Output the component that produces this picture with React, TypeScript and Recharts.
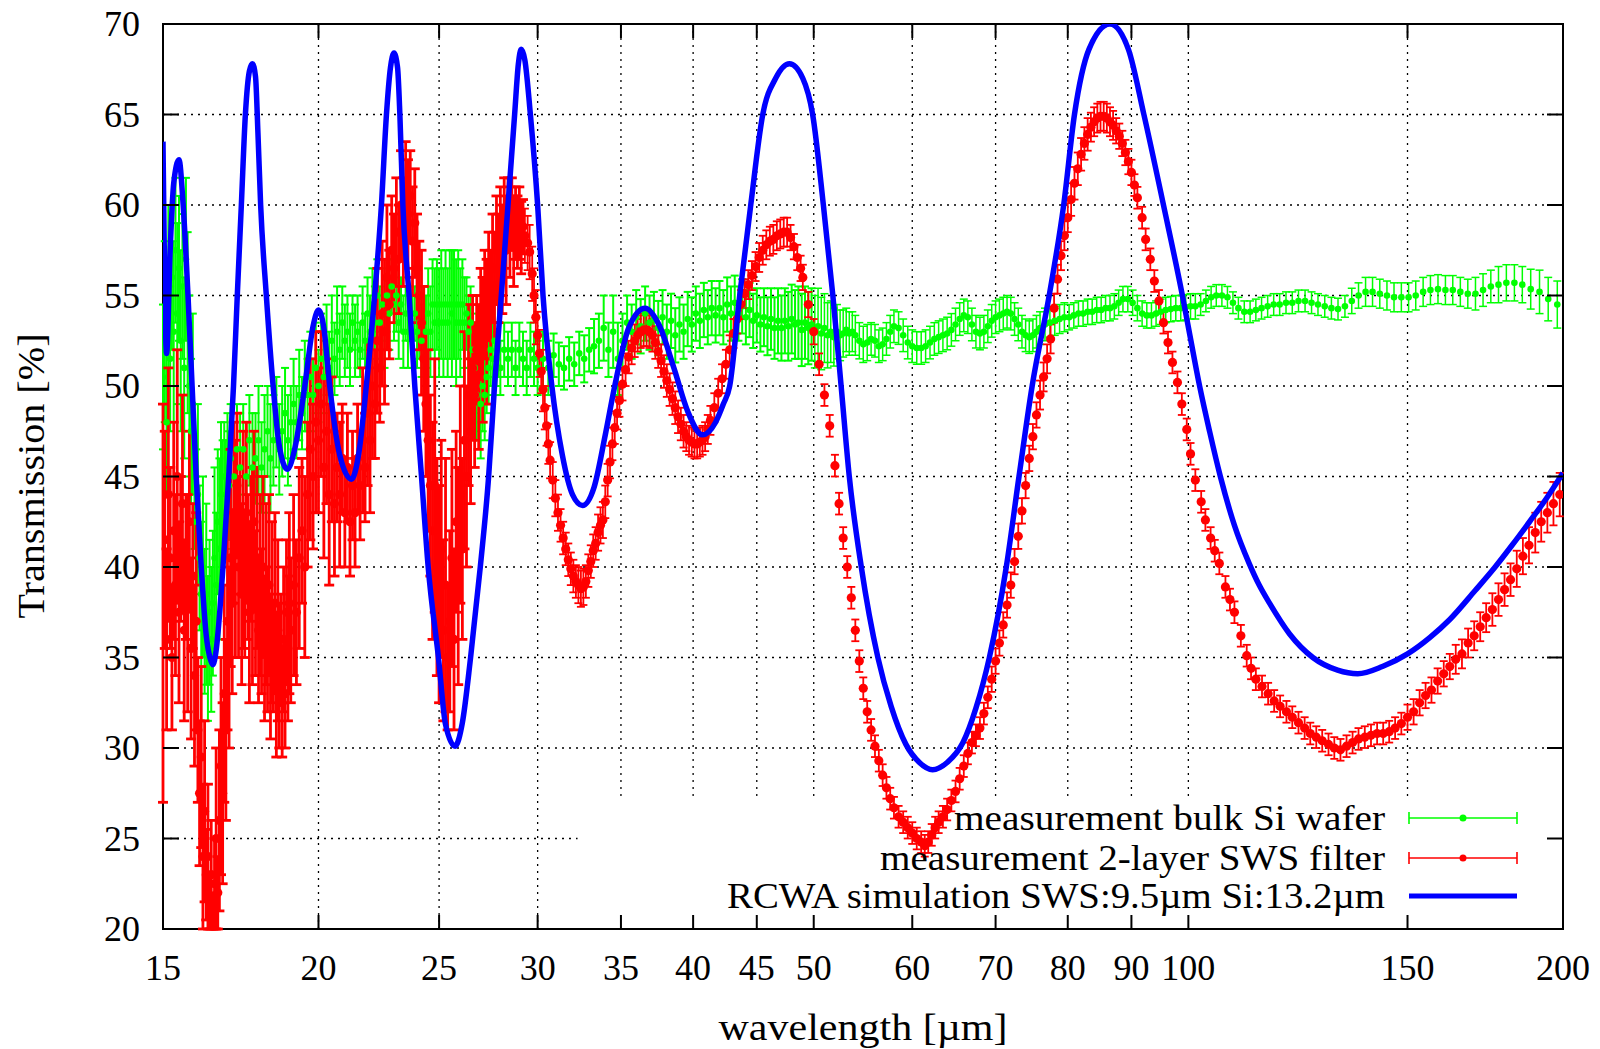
import React from 'react';
import {
  ComposedChart,
  Scatter,
  Line,
  XAxis,
  YAxis,
  CartesianGrid,
  ErrorBar,
  ReferenceArea,
  Legend,
} from 'recharts';

const FONT = '"Liberation Serif", "Times New Roman", serif';
const W = 1600;
const H = 1049;
const PLOT_TOP = 24;
const PLOT_BOTTOM = 929;
const PLOT_LEFT = 163;
const PLOT_RIGHT = 1563;

const xTicks = [15, 20, 25, 30, 35, 40, 45, 50, 60, 70, 80, 90, 100, 150, 200];
const yTicks = [20, 25, 30, 35, 40, 45, 50, 55, 60, 65, 70];

// [wavelength um, transmission %, error]
const greenLow: number[][] = [
  [15.0, 50.5, 4], [15.05, 53.0, 5], [15.1, 48.0, 4], [15.15, 55.0, 5], [15.2, 51.5, 4],
  [15.25, 56.0, 4], [15.3, 53.0, 5], [15.35, 57.5, 4], [15.4, 54.0, 5], [15.45, 56.5, 4],
  [15.5, 52.5, 5], [15.55, 55.5, 4], [15.6, 51.0, 5], [15.65, 57.0, 4.5], [15.7, 53.5, 5],
  [15.75, 50.0, 5], [15.8, 47.5, 4], [15.85, 49.0, 5], [15.9, 45.0, 4], [15.95, 42.5, 4],
  [16.0, 44.0, 5], [16.05, 40.5, 4], [16.1, 38.5, 4], [16.15, 40.0, 5], [16.2, 37.0, 4],
  [16.25, 38.5, 5], [16.3, 35.5, 4], [16.35, 37.5, 4], [16.4, 36.0, 4], [16.45, 38.0, 4],
  [16.5, 40.5, 5], [16.55, 39.0, 4], [16.6, 42.5, 4], [16.65, 41.0, 5], [16.7, 44.0, 4],
  [16.75, 43.0, 4], [16.8, 45.0, 3], [16.85, 44.0, 3], [16.9, 45.5, 3], [16.95, 44.5, 3],
  [17.0, 46.0, 3], [17.1, 45.0, 3], [17.2, 46.5, 2.5], [17.3, 45.5, 3], [17.4, 46.5, 2.5],
  [17.5, 45.0, 3], [17.6, 47.0, 2.5], [17.7, 45.5, 3], [17.8, 46.0, 2.5], [17.9, 47.0, 3],
  [18.0, 45.5, 2.5], [18.1, 46.5, 3], [18.2, 47.5, 2.5], [18.3, 46.0, 3], [18.4, 47.0, 2.5],
  [18.5, 48.0, 2.5], [18.6, 46.5, 2.5], [18.7, 47.5, 2.5], [18.8, 48.5, 2.5], [18.9, 47.0, 2.5],
  [19.0, 48.0, 2], [19.1, 49.0, 2.5], [19.2, 48.0, 2], [19.3, 49.5, 2.5], [19.4, 48.5, 2],
  [19.5, 50.0, 2.5], [19.6, 49.5, 2], [19.7, 50.5, 2.5], [19.8, 49.5, 2], [19.9, 51.0, 2.5],
  [20.0, 50.0, 2], [20.1, 51.5, 2.5], [20.2, 50.5, 2], [20.3, 52.0, 2.5], [20.4, 51.0, 2],
  [20.5, 52.5, 2.5], [20.6, 51.5, 2], [20.7, 53.0, 2.5], [20.8, 52.0, 2], [20.9, 53.5, 2],
  [21.0, 52.5, 2], [21.1, 53.0, 2], [21.2, 52.0, 2], [21.3, 53.5, 1.5], [21.4, 52.5, 2],
  [21.5, 53.0, 2], [21.6, 52.0, 1.5], [21.7, 53.5, 2], [21.8, 52.5, 1.5], [21.9, 54.0, 2],
  [22.0, 53.0, 2], [22.1, 54.5, 2], [22.2, 53.5, 2], [22.3, 55.0, 2], [22.4, 53.5, 2],
  [22.5, 54.5, 2], [22.6, 53.0, 2], [22.7, 55.0, 2], [22.8, 54.0, 2], [22.9, 55.5, 1.5],
  [23.0, 54.5, 2], [23.1, 55.0, 2], [23.2, 53.5, 2], [23.3, 54.5, 1.5], [23.4, 53.0, 2],
  [23.5, 54.0, 1.5], [23.6, 53.0, 2], [23.7, 54.0, 1.5], [23.8, 53.0, 2], [23.9, 54.0, 1.5],
  [24.0, 53.0, 2], [24.1, 53.5, 2], [24.2, 52.5, 2], [24.3, 53.5, 2], [24.4, 53.0, 2],
  [24.5, 54.0, 2.5], [24.6, 53.0, 2.5], [24.7, 54.5, 2.5], [24.8, 53.5, 3], [24.9, 54.5, 2.5],
  [25.0, 53.5, 3], [25.1, 54.5, 3], [25.2, 53.5, 3], [25.3, 54.5, 3], [25.4, 53.5, 3],
  [25.5, 54.5, 3], [25.6, 54.0, 3.5], [25.7, 54.5, 3], [25.8, 53.5, 3.5], [25.9, 54.5, 3],
  [26.0, 53.5, 3], [26.1, 54.5, 2.5], [26.2, 53.5, 2.5], [26.3, 54.0, 2], [26.4, 53.0, 2],
  [26.5, 53.5, 2], [26.6, 52.0, 2], [26.7, 51.0, 2.5], [26.8, 49.5, 2.5], [26.9, 50.5, 3],
  [27.0, 49.0, 3], [27.1, 50.0, 2.5], [27.2, 49.5, 2.5], [27.3, 50.5, 2], [27.4, 51.0, 2],
  [27.5, 52.0, 2], [27.6, 51.5, 2], [27.7, 52.5, 2], [27.8, 51.5, 1.5], [27.9, 52.0, 1.5],
  [28.0, 51.0, 1.5], [28.2, 52.0, 1.5], [28.4, 51.5, 1.5], [28.6, 52.0, 1.5], [28.8, 51.0, 1.5],
  [29.0, 52.0, 1.5], [29.2, 51.5, 1.5], [29.4, 51.0, 1.5], [29.6, 52.0, 1.5], [29.8, 51.5, 1.5],
  [30.0, 51.0, 1.5], [30.3, 51.5, 1.5], [30.6, 51.0, 1.5], [30.9, 51.7, 1.2], [31.2, 51.2, 1.2],
  [31.5, 51.0, 1.2], [31.8, 51.5, 1.2], [32.1, 51.2, 1.2], [32.4, 51.8, 1.2], [32.7, 51.5, 1.3],
  [33.0, 52.0, 1.2], [33.3, 52.2, 1.5], [33.6, 52.5, 1.5], [33.9, 53.2, 1.8], [34.2, 52.0, 1.5],
  [34.5, 53.0, 2], [34.8, 51.5, 2], [35.1, 52.5, 1.5], [35.4, 53.5, 1.5], [35.7, 53.0, 1.5],
  [36.0, 53.8, 1.5], [36.3, 53.3, 1.5], [36.6, 54.0, 1.5], [36.9, 53.5, 1.5], [37.2, 53.7, 1.5],
  [37.5, 53.2, 1.5], [37.8, 53.8, 1.5], [38.1, 53.0, 1.5], [38.4, 53.6, 1.5], [38.7, 52.8, 1.5],
  [39.0, 53.4, 1.5], [39.3, 53.0, 1.5], [39.6, 53.7, 1.5], [39.9, 53.4, 1.5], [40.2, 54.0, 1.5],
  [40.5, 53.6, 1.5], [40.8, 54.2, 1.5], [41.1, 53.8, 1.5], [41.4, 54.3, 1.5], [41.7, 53.9, 1.5],
  [42.0, 54.3, 1.5], [42.3, 53.8, 1.5], [42.6, 54.5, 1.5], [42.9, 54.0, 1.5], [43.2, 54.6, 1.5],
  [43.5, 54.0, 1.5], [43.8, 54.4, 1.5], [44.1, 53.8, 1.5], [44.4, 54.2, 1.5], [44.7, 53.6, 1.5],
  [45.0, 53.9, 1.5], [45.3, 53.4, 1.5], [45.6, 53.8, 1.6], [45.9, 53.3, 1.6], [46.2, 53.7, 1.7],
  [46.5, 53.2, 1.7], [46.8, 53.6, 1.8], [47.1, 53.2, 1.8], [47.4, 53.6, 1.8], [47.7, 53.3, 1.9],
  [48.0, 53.7, 1.9], [48.3, 53.4, 1.9], [48.6, 53.5, 2.0], [48.9, 53.1, 2.0], [49.2, 53.5, 2.0],
  [49.5, 53.2, 2.0], [49.8, 53.4, 2.0],
];

const greenHigh: number[][] = [
  [50.1, 53.0, 2.0], [50.4, 53.3, 2.1], [50.7, 52.9, 2.0], [51.0, 53.2, 1.9], [51.3, 52.8, 1.8],
  [51.6, 53.0, 1.7], [51.9, 52.7, 1.6], [52.2, 53.0, 1.5], [52.5, 52.8, 1.4], [52.8, 52.9, 1.3],
  [53.1, 53.1, 1.2], [53.4, 52.9, 1.2], [53.7, 53.0, 1.1], [54.0, 52.8, 1.1], [54.4, 52.5, 1.0],
  [54.8, 52.3, 1.0], [55.2, 52.4, 1.0], [55.6, 52.6, 0.9], [56.0, 52.5, 0.9], [56.4, 52.2, 0.9],
  [56.8, 52.3, 0.9], [57.2, 52.6, 0.9], [57.6, 53.0, 0.9], [58.0, 53.3, 0.9], [58.5, 53.2, 0.9],
  [59.0, 52.8, 0.9], [59.5, 52.4, 0.9], [60.0, 52.2, 0.9], [60.5, 52.1, 0.9], [61.0, 52.1, 0.9],
  [61.5, 52.2, 0.9], [62.0, 52.4, 0.9], [62.5, 52.6, 0.9], [63.0, 52.7, 0.9], [63.5, 52.8, 0.9],
  [64.0, 52.9, 0.9], [64.5, 53.1, 0.9], [65.0, 53.4, 0.9], [65.5, 53.7, 0.9], [66.0, 53.9, 0.9],
  [66.5, 53.8, 0.9], [67.0, 53.4, 0.9], [67.5, 53.0, 0.9], [68.0, 52.9, 0.9], [68.5, 53.0, 0.9],
  [69.0, 53.3, 0.9], [69.5, 53.6, 0.9], [70.0, 53.8, 0.9], [70.5, 53.9, 0.9], [71.0, 54.0, 0.9],
  [71.5, 54.1, 0.9], [72.0, 54.0, 0.9], [72.5, 53.7, 0.9], [73.0, 53.4, 0.9], [73.5, 53.0, 0.9],
  [74.0, 52.8, 0.9], [74.5, 52.7, 0.9], [75.0, 52.8, 0.9], [75.5, 53.0, 0.9], [76.0, 53.2, 0.9],
  [76.7, 53.4, 0.9], [77.4, 53.5, 0.8], [78.1, 53.6, 0.8], [78.8, 53.7, 0.8], [79.5, 53.8, 0.8],
  [80.2, 53.8, 0.7], [80.9, 53.9, 0.7], [81.6, 54.0, 0.7], [82.3, 54.0, 0.7], [83.0, 54.1, 0.7],
  [83.7, 54.1, 0.7], [84.4, 54.2, 0.7], [85.1, 54.2, 0.7], [85.8, 54.3, 0.7], [86.5, 54.3, 0.7],
  [87.2, 54.4, 0.7], [87.9, 54.6, 0.7], [88.6, 54.8, 0.7], [89.4, 54.8, 0.7], [90.2, 54.6, 0.7],
  [91.0, 54.3, 0.7], [91.8, 54.0, 0.7], [92.6, 53.9, 0.7], [93.4, 53.9, 0.7], [94.2, 54.0, 0.7],
  [95.0, 54.1, 0.7], [95.9, 54.2, 0.7], [96.8, 54.25, 0.7], [97.7, 54.3, 0.7], [98.6, 54.3, 0.7],
  [99.5, 54.35, 0.7], [100.4, 54.4, 0.7], [101.3, 54.4, 0.7], [102.3, 54.5, 0.6], [103.3, 54.7, 0.6],
  [104.3, 54.9, 0.6], [105.3, 55.0, 0.6], [106.4, 55.0, 0.6], [107.5, 54.9, 0.6], [108.6, 54.6, 0.6],
  [109.7, 54.3, 0.6], [110.9, 54.1, 0.6], [112.1, 54.1, 0.6], [113.3, 54.2, 0.6], [114.5, 54.3, 0.6],
  [115.8, 54.4, 0.6], [117.1, 54.5, 0.6], [118.4, 54.5, 0.6], [119.8, 54.6, 0.6], [121.2, 54.6, 0.6],
  [122.6, 54.7, 0.6], [124.1, 54.7, 0.6], [125.6, 54.6, 0.6], [127.1, 54.5, 0.6], [128.7, 54.4, 0.6],
  [130.3, 54.3, 0.6], [131.9, 54.25, 0.6], [133.6, 54.4, 0.6], [135.3, 54.7, 0.7], [137.0, 55.0, 0.7],
  [138.8, 55.2, 0.8], [140.6, 55.2, 0.8], [142.5, 55.1, 0.8], [144.4, 55.0, 0.8], [146.3, 54.9, 0.8],
  [148.3, 54.9, 0.8], [150.3, 54.9, 0.8], [152.3, 55.0, 0.8], [154.4, 55.2, 0.8], [156.5, 55.3, 0.8],
  [158.7, 55.35, 0.8], [160.9, 55.3, 0.8], [163.1, 55.3, 0.8], [165.4, 55.2, 0.8], [167.7, 55.1, 0.8],
  [170.1, 55.1, 0.9], [172.5, 55.3, 0.9], [175.0, 55.5, 0.9], [177.5, 55.6, 1.0], [180.1, 55.7, 1.0],
  [182.8, 55.7, 1.0], [185.5, 55.6, 1.0], [188.4, 55.35, 1.1], [191.5, 55.2, 1.2], [194.6, 54.8, 1.2],
  [197.9, 54.5, 1.3],
];

const redLow: number[][] = [
  [15.0, 38.0, 11], [15.05, 41.5, 6], [15.1, 36.0, 5], [15.15, 44.0, 7], [15.2, 40.5, 5],
  [15.25, 35.0, 4], [15.3, 42.0, 6], [15.35, 39.0, 5], [15.4, 45.0, 7], [15.45, 37.5, 5],
  [15.5, 41.0, 4], [15.55, 43.5, 6], [15.6, 36.5, 5], [15.65, 40.0, 4], [15.7, 38.0, 6],
  [15.75, 42.5, 5], [15.8, 35.5, 5], [15.85, 39.5, 4], [15.9, 34.0, 5], [15.95, 37.0, 6],
  [16.0, 31.0, 4], [16.05, 27.5, 4], [16.1, 29.5, 5], [16.15, 24.0, 4], [16.2, 26.5, 5],
  [16.25, 23.0, 2.5], [16.3, 24.0, 4], [16.35, 21.5, 1.5], [16.4, 23.0, 3], [16.45, 21.0, 1],
  [16.5, 22.5, 2.5], [16.55, 25.0, 5], [16.6, 22.0, 2], [16.65, 26.0, 5], [16.7, 29.0, 6],
  [16.75, 27.5, 5], [16.8, 33.0, 6], [16.85, 31.0, 5], [16.9, 37.0, 6], [16.95, 35.0, 5],
  [17.0, 40.5, 6], [17.05, 38.0, 5], [17.1, 43.0, 5], [17.15, 41.0, 6], [17.2, 44.5, 4],
  [17.25, 40.0, 5], [17.3, 42.5, 4], [17.35, 38.5, 5], [17.4, 41.5, 6], [17.45, 39.0, 4],
  [17.5, 43.0, 5], [17.55, 40.0, 4], [17.6, 37.5, 5], [17.65, 41.0, 4], [17.7, 39.5, 6],
  [17.75, 42.5, 5], [17.8, 38.0, 4], [17.85, 40.5, 5], [17.9, 36.5, 4], [17.95, 39.0, 5],
  [18.0, 37.0, 4], [18.05, 40.0, 5], [18.1, 35.5, 4], [18.15, 38.5, 5], [18.2, 36.0, 4],
  [18.25, 39.0, 5], [18.3, 34.5, 4], [18.35, 37.5, 5], [18.4, 35.0, 3], [18.45, 38.0, 5],
  [18.5, 33.5, 4], [18.55, 36.5, 5], [18.6, 34.0, 4], [18.65, 35.5, 3], [18.7, 32.5, 3],
  [18.75, 36.0, 4], [18.8, 33.0, 3], [18.85, 37.5, 4], [18.9, 35.5, 4], [18.95, 38.0, 5],
  [19.0, 36.5, 4], [19.1, 39.0, 5], [19.2, 37.5, 4], [19.3, 40.5, 5], [19.4, 42.0, 4],
  [19.5, 40.0, 5], [19.6, 44.0, 4], [19.7, 46.5, 5], [19.8, 45.0, 4], [19.9, 48.0, 5],
  [20.0, 47.0, 4], [20.1, 49.0, 4], [20.2, 45.5, 5], [20.3, 47.5, 4], [20.4, 44.0, 5],
  [20.5, 46.5, 4], [20.6, 43.5, 4], [20.7, 45.5, 3], [20.8, 44.0, 4], [20.9, 46.0, 3],
  [21.0, 43.0, 3], [21.1, 45.5, 3], [21.2, 42.5, 3], [21.3, 44.5, 3], [21.4, 43.0, 3],
  [21.5, 46.0, 3], [21.6, 44.5, 3], [21.7, 47.0, 4], [21.8, 45.5, 3], [21.9, 48.5, 4],
  [22.0, 47.0, 4], [22.1, 50.0, 4], [22.2, 49.0, 3], [22.3, 52.5, 4], [22.4, 51.0, 3],
  [22.5, 54.0, 4], [22.6, 53.0, 4], [22.7, 56.0, 4], [22.8, 54.5, 3], [22.9, 57.5, 3],
  [23.0, 56.5, 3], [23.1, 58.5, 3], [23.2, 57.0, 3], [23.3, 60.0, 3], [23.4, 58.5, 3],
  [23.5, 61.0, 2.5], [23.6, 59.5, 3], [23.7, 60.5, 2.5], [23.8, 58.0, 3], [23.9, 59.0, 3],
  [24.0, 56.5, 3], [24.1, 55.0, 3], [24.2, 53.5, 4], [24.3, 51.5, 4], [24.4, 49.0, 4],
  [24.5, 47.0, 5], [24.6, 44.5, 5], [24.7, 42.0, 6], [24.8, 44.5, 7], [24.9, 40.0, 6],
  [25.0, 38.5, 6], [25.1, 41.0, 6], [25.2, 36.5, 5], [25.3, 39.0, 7], [25.4, 35.0, 4],
  [25.5, 37.0, 5], [25.6, 40.5, 6], [25.7, 36.0, 5], [25.8, 42.5, 5], [25.9, 39.5, 6],
  [26.0, 44.0, 6], [26.1, 41.0, 5], [26.2, 47.0, 6], [26.3, 45.0, 5], [26.4, 49.5, 5],
  [26.5, 47.5, 4], [26.6, 51.0, 4], [26.7, 49.5, 4], [26.8, 52.0, 3], [26.9, 50.5, 4],
  [27.0, 53.5, 3], [27.1, 52.0, 4], [27.2, 54.5, 3], [27.3, 53.0, 4], [27.4, 55.5, 3],
  [27.5, 54.5, 3], [27.6, 56.5, 3], [27.7, 55.5, 3], [27.8, 57.5, 3], [27.9, 56.5, 3],
  [28.0, 58.0, 3], [28.1, 57.0, 3], [28.2, 59.0, 2.5], [28.3, 57.5, 3], [28.4, 59.5, 2],
  [28.5, 58.5, 2.5], [28.6, 59.5, 2], [28.7, 58.0, 2.5], [28.8, 59.0, 2], [28.9, 58.5, 2],
  [29.0, 59.0, 2], [29.1, 58.2, 2], [29.2, 58.8, 1.5],
];

const redMid: number[][] = [
  [29.3, 58.3, 1.5], [29.45, 57.9, 1.5], [29.56, 57.4, 1.5], [29.7, 56.2, 1.5], [29.8, 55.0, 1.5],
  [29.9, 53.8, 1.5], [30.0, 52.8, 1.3], [30.1, 51.8, 1.3], [30.2, 50.8, 1.2], [30.3, 49.8, 1.2],
  [30.4, 48.8, 1.2], [30.5, 47.8, 1.1], [30.6, 46.8, 1.1], [30.7, 45.9, 1.0], [30.85, 44.8, 1.0],
  [31.0, 43.8, 1.0], [31.15, 43.0, 1.0], [31.3, 42.3, 0.9], [31.45, 41.6, 0.9], [31.6, 41.0, 0.9],
  [31.75, 40.4, 0.9], [31.9, 39.9, 0.9], [32.05, 39.5, 0.9], [32.2, 39.2, 0.9], [32.35, 39.0, 1.0],
  [32.5, 38.8, 1.0], [32.65, 38.9, 1.0], [32.8, 39.2, 0.9], [32.95, 39.8, 0.9], [33.1, 40.3, 0.9],
  [33.25, 40.9, 0.9], [33.4, 41.3, 0.9], [33.55, 41.9, 1.0], [33.7, 42.3, 1.0], [33.85, 42.6, 1.0],
  [34.0, 43.6, 0.9], [34.15, 44.8, 0.9], [34.3, 45.8, 0.9], [34.45, 46.8, 0.9], [34.6, 47.7, 0.9],
  [34.75, 48.5, 0.9], [34.9, 49.2, 0.9], [35.1, 50.1, 0.9], [35.3, 50.9, 0.9], [35.5, 51.6, 0.9],
  [35.7, 52.1, 0.9], [35.9, 52.5, 0.9], [36.1, 52.8, 0.9], [36.3, 53.0, 0.9], [36.5, 53.1, 0.9],
  [36.7, 53.1, 0.9], [36.9, 53.0, 0.9], [37.1, 52.8, 0.9], [37.3, 52.4, 0.9], [37.5, 51.9, 0.9],
  [37.7, 51.4, 0.9], [37.9, 50.8, 0.9], [38.1, 50.3, 0.9], [38.3, 49.8, 0.9], [38.5, 49.3, 0.9],
  [38.7, 48.8, 0.9], [38.9, 48.3, 0.9], [39.1, 47.9, 0.9], [39.3, 47.5, 0.9], [39.5, 47.2, 0.8],
  [39.7, 47.0, 0.8], [39.9, 46.9, 0.8], [40.1, 46.8, 0.8], [40.3, 46.8, 0.8], [40.5, 46.9, 0.8],
  [40.7, 47.0, 0.8], [40.9, 47.2, 0.8], [41.1, 47.6, 0.8], [41.3, 48.1, 0.8], [41.6, 48.8, 0.8],
  [41.9, 49.6, 0.8], [42.2, 50.4, 0.8], [42.5, 51.2, 0.8], [42.8, 52.0, 0.8], [43.1, 52.9, 0.8],
  [43.4, 53.7, 0.8], [43.7, 54.5, 0.8], [44.0, 55.1, 0.8], [44.3, 55.6, 0.8], [44.6, 56.1, 0.8],
  [44.9, 56.6, 0.8], [45.2, 57.1, 0.8], [45.5, 57.5, 0.8], [45.8, 57.8, 0.8], [46.1, 58.0, 0.8],
  [46.4, 58.1, 0.8], [46.7, 58.3, 0.8], [47.0, 58.4, 0.8], [47.3, 58.5, 0.8], [47.6, 58.5, 0.8],
  [47.9, 58.2, 0.7], [48.2, 57.7, 0.7], [48.5, 57.1, 0.7], [48.8, 56.5, 0.7], [49.0, 56.0, 0.7],
  [49.5, 54.5, 0.7], [50.0, 53.0, 0.7], [50.5, 51.2, 0.6], [51.0, 49.5, 0.6], [51.5, 47.8, 0.6],
  [52.0, 45.6, 0.6], [52.4, 43.5, 0.6], [52.8, 41.6, 0.6], [53.2, 40.0, 0.6], [53.6, 38.3, 0.6],
  [54.0, 36.5, 0.6], [54.4, 34.8, 0.6], [54.8, 33.3, 0.6], [55.2, 32.0, 0.6], [55.6, 31.0, 0.6],
  [56.0, 30.1, 0.6], [56.4, 29.3, 0.6], [56.8, 28.5, 0.6], [57.2, 27.8, 0.6], [57.6, 27.2, 0.6],
  [58.0, 26.7, 0.6], [58.5, 26.2, 0.6], [59.0, 25.9, 0.6], [59.5, 25.6, 0.6], [60.0, 25.3, 0.6],
  [60.5, 25.0, 0.6], [61.0, 24.8, 0.6], [61.4, 24.6, 0.6], [61.8, 24.8, 0.6],
];

const redHigh: number[][] = [
  [62.2, 25.2, 0.6], [62.6, 25.6, 0.6], [63.0, 25.9, 0.6], [63.5, 26.2, 0.6], [64.0, 26.6, 0.6],
  [64.5, 27.1, 0.6], [65.0, 27.6, 0.6], [65.5, 28.3, 0.6], [66.0, 29.0, 0.6], [66.5, 29.7, 0.6],
  [67.0, 30.3, 0.6], [67.5, 30.7, 0.6], [68.0, 31.1, 0.6], [68.5, 31.9, 0.6], [69.0, 32.8, 0.6],
  [69.5, 33.8, 0.7], [70.0, 34.8, 0.7], [70.5, 35.8, 0.7], [71.0, 36.8, 0.7], [71.5, 37.9, 0.7],
  [72.0, 39.0, 0.7], [72.5, 40.3, 0.7], [73.0, 41.7, 0.7], [73.5, 43.1, 0.7], [74.0, 44.5, 0.7],
  [74.5, 46.0, 0.7], [75.0, 47.2, 0.7], [75.5, 48.4, 0.7], [76.0, 49.5, 0.8], [76.5, 50.5, 0.8],
  [77.0, 51.5, 0.8], [77.5, 52.6, 0.8], [78.0, 54.3, 0.8], [78.5, 55.9, 0.8], [79.0, 57.2, 0.8],
  [79.5, 58.3, 0.8], [80.0, 59.3, 0.8], [80.5, 60.3, 0.9], [81.0, 61.2, 0.9], [81.5, 62.0, 0.9],
  [82.0, 62.8, 0.9], [82.5, 63.4, 0.9], [83.0, 63.9, 0.9], [83.5, 64.3, 0.8], [84.0, 64.6, 0.8],
  [84.5, 64.8, 0.8], [85.0, 64.9, 0.8], [85.5, 64.9, 0.8], [86.0, 64.8, 0.8], [86.5, 64.6, 0.8],
  [87.0, 64.4, 0.8], [87.5, 64.1, 0.7], [88.0, 63.8, 0.7], [88.5, 63.4, 0.7], [89.0, 62.9, 0.7],
  [89.5, 62.4, 0.7], [90.0, 61.8, 0.7], [90.5, 61.1, 0.6], [91.0, 60.4, 0.6], [91.8, 59.3, 0.6],
  [92.4, 58.1, 0.6], [93.2, 57.0, 0.6], [93.9, 55.8, 0.6], [94.7, 54.7, 0.6], [95.5, 53.5, 0.6],
  [96.3, 52.4, 0.6], [97.1, 51.3, 0.6], [98.0, 50.2, 0.6], [98.8, 49.0, 0.6], [99.7, 47.6, 0.6],
  [100.4, 46.25, 0.6], [101.3, 44.8, 0.6], [102.4, 43.6, 0.6], [103.2, 42.6, 0.6], [104.2, 41.6, 0.6],
  [105.0, 40.9, 0.6], [105.9, 40.2, 0.6], [107.1, 38.9, 0.6], [108.0, 38.2, 0.6], [108.9, 37.5, 0.6],
  [110.2, 36.2, 0.6], [111.4, 35.1, 0.6], [112.3, 34.4, 0.6], [113.3, 33.8, 0.6], [114.6, 33.4, 0.6],
  [115.9, 33.0, 0.6], [117.2, 32.6, 0.6], [118.5, 32.3, 0.6], [119.9, 32.0, 0.6], [121.2, 31.7, 0.6],
  [122.6, 31.4, 0.6], [124.0, 31.1, 0.6], [125.3, 30.8, 0.6], [126.7, 30.6, 0.6], [128.1, 30.4, 0.6],
  [129.6, 30.2, 0.6], [131.0, 30.0, 0.6], [132.5, 29.9, 0.6], [134.0, 30.1, 0.6], [135.5, 30.3, 0.6],
  [137.0, 30.5, 0.6], [138.6, 30.6, 0.6], [140.2, 30.7, 0.6], [141.8, 30.8, 0.6], [143.4, 30.8, 0.6],
  [145.0, 30.9, 0.6], [146.6, 31.1, 0.6], [148.3, 31.35, 0.6], [150.0, 31.7, 0.7], [151.7, 32.0, 0.7],
  [153.4, 32.5, 0.7], [155.1, 32.9, 0.7], [156.8, 33.2, 0.7], [158.6, 33.7, 0.7], [160.4, 34.1, 0.7],
  [162.2, 34.5, 0.7], [164.0, 34.9, 0.8], [165.9, 35.2, 0.8], [167.8, 35.8, 0.8], [169.7, 36.2, 0.8],
  [171.6, 36.7, 0.8], [173.5, 37.2, 0.8], [175.5, 37.65, 0.9], [177.5, 38.2, 0.9], [179.5, 38.75, 0.9],
  [181.5, 39.3, 0.9], [183.6, 39.9, 1.0], [185.7, 40.6, 1.0], [187.8, 41.2, 1.0], [190.0, 41.9, 1.1],
  [192.1, 42.5, 1.1], [194.3, 43.0, 1.1], [196.5, 43.5, 1.2], [198.8, 44.0, 1.2],
];

// [wavelength um, transmission %]
const blueSim: number[][] = [
  [15.0, 63.5], [15.1, 51.8], [15.2, 57.5], [15.3, 61.2], [15.45, 62.5], [15.57, 60],
  [15.71, 55], [15.83, 50], [15.95, 45], [16.1, 40], [16.25, 36.2], [16.36, 35], [16.45, 34.6],
  [16.55, 35.4], [16.66, 37.5], [16.76, 40], [16.94, 45], [17.09, 50], [17.21, 55], [17.34, 60],
  [17.47, 65], [17.6, 67.4], [17.7, 67.8], [17.8, 67.1], [17.88, 64], [17.97, 60], [18.16, 55],
  [18.39, 50], [18.6, 46.7], [18.88, 45.4], [19.15, 46.6], [19.5, 50], [19.8, 53.3], [20.0, 54.2],
  [20.2, 53.2], [20.42, 50], [20.8, 46.2], [21.26, 44.85], [21.55, 46.3], [21.85, 50], [22.19, 55],
  [22.47, 60], [22.68, 65], [22.85, 67.6], [23.0, 68.4], [23.15, 67.6], [23.25, 65], [23.38, 60],
  [23.65, 55], [23.9, 50], [24.2, 45], [24.5, 40], [24.97, 35], [25.3, 31.3], [25.75, 30.1],
  [26.1, 31.4], [26.5, 35], [26.98, 40], [27.4, 45], [27.7, 50], [28.05, 55], [28.4, 60],
  [28.75, 65], [28.95, 67.8], [29.1, 68.6], [29.3, 68.0], [29.6, 65], [30.0, 60], [30.3, 55],
  [30.8, 50], [31.4, 46.2], [32.0, 44.0], [32.6, 43.4], [33.3, 44.4], [34.0, 47.3], [34.6, 50],
  [35.5, 53.2], [36.6, 54.3], [37.6, 53.3], [38.6, 51.0], [39.6, 48.6], [40.7, 47.3], [41.7, 48.0],
  [42.3, 49.0], [42.8, 50], [43.6, 55], [44.5, 60], [45.5, 65], [46.6, 67.0], [47.8, 67.8],
  [49.0, 67.0], [49.9, 65], [50.9, 60], [51.8, 55], [52.6, 50], [53.4, 45], [54.6, 40],
  [56.3, 35], [57.7, 32.3], [59.3, 30.2], [60.8, 29.2], [62.3, 28.8], [64.0, 29.2], [65.9, 30.3],
  [67.5, 32.2], [69.2, 35], [71.4, 40], [73.1, 45], [74.9, 50], [77.3, 55], [79.4, 60],
  [81.0, 65], [83.2, 68.6], [86.5, 70], [89.5, 68.6], [92.1, 65], [95.5, 60], [98.9, 55],
  [100.1, 53.1], [102.1, 50], [104.0, 47.5], [106.1, 45], [108.9, 42.3], [111.9, 40.2],
  [114.0, 39.0], [116.2, 38.0], [120.6, 36.3], [125.9, 35.0], [131.8, 34.3], [136.8, 34.1],
  [143.2, 34.5], [150.0, 35.2], [156.3, 36.1], [162.2, 37.1], [170.0, 38.7], [176.4, 40.0],
  [182.0, 41.2], [188.0, 42.5], [194.0, 43.8], [200.0, 45.2],
];

const withErr = (rows: number[][]) => rows.map(([x, y, e]) => ({ x, y, e }));
const greenNoisyData = withErr(greenLow);
const greenSmoothData = withErr(greenHigh);
const redNoisyData = withErr(redLow);
const redSmoothData = withErr([...redMid, ...redHigh]);
const blueData = blueSim.map(([x, y]) => ({ x, y }));

const greenDot = (p: any) => <circle cx={p.cx} cy={p.cy} r={3.3} fill="#00ff00" />;
const redDot = (p: any) => <circle cx={p.cx} cy={p.cy} r={4.6} fill="#ff0000" />;

const XTick = (props: any) => {
  const { x, payload } = props;
  return (
    <g>
      <line x1={x} x2={x} y1={PLOT_BOTTOM} y2={PLOT_BOTTOM - 14} stroke="#000" strokeWidth={2} />
      <line x1={x} x2={x} y1={PLOT_TOP} y2={PLOT_TOP + 14} stroke="#000" strokeWidth={2} />
      <text x={x} y={PLOT_BOTTOM + 51} textAnchor="middle" fontFamily={FONT} fontSize={36} fill="#000">
        {payload.value}
      </text>
    </g>
  );
};

const YTick = (props: any) => {
  const { y, payload } = props;
  return (
    <g>
      <line x1={PLOT_LEFT} x2={PLOT_LEFT + 16} y1={y} y2={y} stroke="#000" strokeWidth={2} />
      <line x1={PLOT_RIGHT} x2={PLOT_RIGHT - 16} y1={y} y2={y} stroke="#000" strokeWidth={2} />
      <text x={140} y={y} textAnchor="end" dominantBaseline="central" fontFamily={FONT} fontSize={36} fill="#000">
        {payload.value}
      </text>
    </g>
  );
};

const yLabel = () => (
  <text x={44} y={476} transform="rotate(-90 44 476)" textAnchor="middle" fontFamily={FONT}
    fontSize={38} fill="#000" textLength={285} lengthAdjust="spacingAndGlyphs">
    Transmission [%]
  </text>
);

const xLabel = () => (
  <text x={863} y={1040} textAnchor="middle" fontFamily={FONT} fontSize={38} fill="#000"
    textLength={289} lengthAdjust="spacingAndGlyphs">
    wavelength [µm]
  </text>
);

const LEG_X = 560;
const LEG_Y = 790;

const ErrSample = ({ y, color }: { y: number; color: string }) => (
  <g stroke={color} strokeWidth={1.6}>
    <line x1={849} x2={957} y1={y} y2={y} />
    <line x1={849} x2={849} y1={y - 6} y2={y + 6} />
    <line x1={957} x2={957} y1={y - 6} y2={y + 6} />
    <circle cx={903} cy={y} r={3.5} fill={color} stroke="none" />
  </g>
);

const renderLegend = () => (
  <svg width={1000} height={140} style={{ overflow: 'visible' }}>
    <g fontFamily={FONT} fontSize={36} fill="#000" textAnchor="end">
      <text x={825} y={40} textLength={431} lengthAdjust="spacingAndGlyphs">measurement  bulk Si wafer</text>
      <text x={825} y={80} textLength={505} lengthAdjust="spacingAndGlyphs">measurement  2-layer SWS filter</text>
      <text x={825} y={118} textLength={658} lengthAdjust="spacingAndGlyphs">RCWA simulation SWS:9.5µm Si:13.2µm</text>
    </g>
    <ErrSample y={28} color="#00ff00" />
    <ErrSample y={68} color="#ff0000" />
    <line x1={849} x2={957} y1={106} y2={106} stroke="#0000ff" strokeWidth={5} />
  </svg>
);

export default function App() {
  return (
    <div style={{ position: 'absolute', left: 0, top: 0, width: W, height: H, background: '#fff' }}>
      <ComposedChart width={W} height={H} margin={{ top: PLOT_TOP, right: W - PLOT_RIGHT, bottom: 0, left: 0 }}>
        <CartesianGrid stroke="#000" strokeDasharray="2 5" strokeWidth={1.3} />
        <ReferenceArea x1={32.3} x2={200} y1={20} y2={27.2} fill="#ffffff" fillOpacity={1} stroke="none" />
        <XAxis
          dataKey="x"
          type="number"
          scale="log"
          domain={[15, 200]}
          ticks={xTicks}
          interval={0}
          allowDataOverflow
          height={H - PLOT_BOTTOM}
          axisLine={false}
          tickLine={false}
          tick={<XTick />}
          label={xLabel}
        />
        <YAxis
          dataKey="y"
          type="number"
          domain={[20, 70]}
          ticks={yTicks}
          interval={0}
          allowDataOverflow
          width={PLOT_LEFT}
          axisLine={false}
          tickLine={false}
          tick={<YTick />}
          label={yLabel}
        />
        <Scatter name="measurement  bulk Si wafer" data={greenNoisyData} fill="#00ff00" shape={greenDot} isAnimationActive={false}>
          <ErrorBar dataKey="e" direction="y" width={4} stroke="#00ff00" strokeWidth={2} />
        </Scatter>
        <Scatter name="bulk Si (long wavelength)" data={greenSmoothData} fill="#00ff00" shape={greenDot} isAnimationActive={false}>
          <ErrorBar dataKey="e" direction="y" width={4} stroke="#00ff00" strokeWidth={1.5} />
        </Scatter>
        <Scatter name="measurement  2-layer SWS filter" data={redNoisyData} fill="#ff0000" shape={redDot} isAnimationActive={false}>
          <ErrorBar dataKey="e" direction="y" width={5} stroke="#ff0000" strokeWidth={2.8} />
        </Scatter>
        <Scatter name="SWS filter (long wavelength)" data={redSmoothData} fill="#ff0000" shape={redDot} isAnimationActive={false}>
          <ErrorBar dataKey="e" direction="y" width={4} stroke="#ff0000" strokeWidth={1.8} />
        </Scatter>
        <Line
          name="RCWA simulation SWS:9.5µm Si:13.2µm"
          data={blueData}
          dataKey="y"
          type="monotone"
          stroke="#0000ff"
          strokeWidth={5.5}
          dot={false}
          activeDot={false}
          isAnimationActive={false}
          zIndex={700}
        />
        <ReferenceArea x1={15} x2={200} y1={20} y2={70} fill="none" stroke="#000" strokeWidth={2} />
        <Legend
          content={renderLegend}
          layout="horizontal"
          verticalAlign="middle"
          align="center"
          wrapperStyle={{ left: LEG_X, top: LEG_Y, width: 1000, height: 140 }}
        />
      </ComposedChart>
    </div>
  );
}
